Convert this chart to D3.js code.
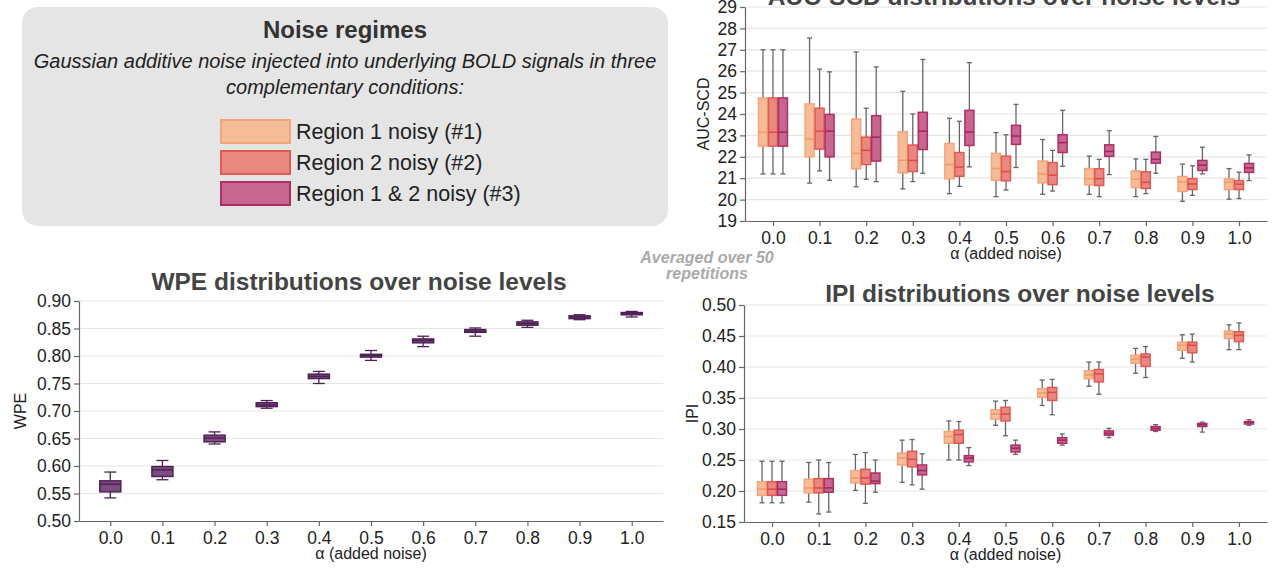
<!DOCTYPE html>
<html>
<head>
<meta charset="utf-8">
<script src="https://d3js.org/d3.v7.min.js"></script>
<style>
  body { margin: 0; background: #fff; }
  svg { font-family: "Liberation Sans", Arial, sans-serif; display: block; }
  .tick text { fill: #222; }
  .panel-title { font-weight: bold; fill: #444; font-size: 24.5px; text-anchor: middle; }
  .axis-label { fill: #222; font-size: 16px; text-anchor: middle; }
</style>
</head>
<body>
<svg width="1272" height="569"></svg>
<script>
// noise levels
var alphas = [0.0, 0.1, 0.2, 0.3, 0.4, 0.5, 0.6, 0.7, 0.8, 0.9, 1.0];
var regimes = ["Region 1 noisy (#1)", "Region 2 noisy (#2)", "Region 1 & 2 noisy (#3)"];

// each entry: [whisker low, q1, median, q3, whisker high]
var aucR1 = [[21.2,22.5,23.15,24.75,27.0],[20.77,22.0,22.83,24.47,27.55],[20.6,21.44,22.16,23.77,26.9],[20.5,21.25,21.84,23.17,25.06],
  [20.28,20.97,21.64,22.62,23.8],[20.14,20.9,21.45,22.16,23.13],[20.25,20.78,21.2,21.8,22.81],[20.25,20.69,20.98,21.45,22.03],
  [20.14,20.56,20.95,21.34,21.9],[19.92,20.38,20.83,21.08,21.66],[20.02,20.47,20.81,20.97,21.45]];
var aucR2 = [[21.2,22.5,23.15,24.75,27.0],[21.34,22.36,23.2,24.27,26.1],[20.95,21.64,22.3,22.92,24.27],[20.84,21.31,21.83,22.55,24.0],
  [20.62,21.09,21.52,22.2,23.66],[20.45,20.88,21.31,22.03,23.03],[20.4,20.7,21.14,21.73,22.3],[20.14,20.66,20.98,21.44,21.88],
  [20.28,20.52,20.81,21.3,21.88],[20.2,20.47,20.73,20.98,21.58],[20.05,20.47,20.72,20.89,21.28]];
var aucR3 = [[21.2,22.5,23.15,24.75,27.0],[20.9,22.0,23.2,23.98,25.97],[20.84,21.8,22.92,23.92,26.2],[21.23,22.34,23.2,24.08,26.55],
  [21.53,22.53,23.16,24.17,26.4],[21.5,22.58,22.97,23.47,24.45],[21.56,22.2,22.66,23.03,24.17],[21.17,22.02,22.25,22.56,23.22],
  [21.23,21.7,21.88,22.22,22.95],[21.2,21.36,21.61,21.83,22.45],[20.89,21.27,21.48,21.69,22.09]];

var ipiR1 = [[0.181,0.193,0.203,0.215,0.248],[0.182,0.197,0.205,0.219,0.246],[0.201,0.213,0.221,0.233,0.259],[0.214,0.242,0.253,0.261,0.282],
  [0.250,0.277,0.288,0.296,0.313],[0.306,0.316,0.324,0.331,0.345],[0.338,0.351,0.358,0.365,0.379],[0.369,0.381,0.387,0.394,0.408],
  [0.390,0.406,0.413,0.419,0.430],[0.414,0.427,0.435,0.440,0.452],[0.428,0.446,0.453,0.458,0.468]];
var ipiR2 = [[0.181,0.193,0.203,0.215,0.248],[0.163,0.197,0.205,0.220,0.250],[0.180,0.211,0.221,0.235,0.262],[0.210,0.239,0.251,0.264,0.283],
  [0.250,0.277,0.291,0.298,0.312],[0.289,0.313,0.324,0.335,0.346],[0.323,0.346,0.359,0.367,0.380],[0.356,0.376,0.389,0.396,0.408],
  [0.383,0.401,0.416,0.421,0.433],[0.408,0.423,0.435,0.440,0.453],[0.428,0.441,0.451,0.457,0.471]];
var ipiR3 = [[0.181,0.193,0.203,0.215,0.248],[0.166,0.198,0.205,0.220,0.246],[0.198,0.212,0.216,0.229,0.250],[0.203,0.226,0.233,0.242,0.260],
  [0.241,0.247,0.253,0.257,0.270],[0.259,0.263,0.269,0.274,0.282],[0.274,0.277,0.282,0.286,0.292],[0.286,0.290,0.293,0.297,0.301],
  [0.296,0.298,0.301,0.304,0.307],[0.295,0.304,0.307,0.309,0.311],[0.306,0.308,0.311,0.312,0.315]];

var wpe = [[0.542,0.553,0.567,0.573,0.589],[0.575,0.581,0.593,0.599,0.610],[0.640,0.644,0.651,0.656,0.662],[0.705,0.708,0.711,0.715,0.719],
  [0.750,0.759,0.763,0.767,0.772],[0.792,0.798,0.801,0.803,0.810],[0.817,0.824,0.828,0.831,0.836],[0.836,0.843,0.845,0.848,0.851],
  [0.852,0.856,0.859,0.862,0.865],[0.866,0.868,0.871,0.873,0.875],[0.871,0.875,0.878,0.879,0.881]];

var aucTicks = d3.range(19, 30, 1);
var ipiTicks = [0.15, 0.20, 0.25, 0.30, 0.35, 0.40, 0.45, 0.50];
var wpeTicks = [0.50, 0.55, 0.60, 0.65, 0.70, 0.75, 0.80, 0.85, 0.90];

var regimeFill = ["#f5bc98", "#e88880", "#c7668e"];
var regimeStroke = ["#f4a47a", "#e05a52", "#ad2f66"];
var regimeMedian = ["#ef9a68", "#d94a48", "#9e2760"];

var svg = d3.select("svg");

// ---- legend box ----
var leg = svg.append("g");
leg.append("rect").attr("x", 22).attr("y", 7).attr("width", 646).attr("height", 219)
  .attr("rx", 16).attr("fill", "#e5e5e5");
leg.append("text").attr("x", 345).attr("y", 38).attr("text-anchor", "middle")
  .attr("font-size", 24).attr("font-weight", "bold").attr("fill", "#333").text("Noise regimes");
leg.append("text").attr("x", 345).attr("y", 68).attr("text-anchor", "middle")
  .attr("font-size", 20).attr("font-style", "italic").attr("fill", "#222")
  .text("Gaussian additive noise injected into underlying BOLD signals in three");
leg.append("text").attr("x", 345).attr("y", 94).attr("text-anchor", "middle")
  .attr("font-size", 20).attr("font-style", "italic").attr("fill", "#222")
  .text("complementary conditions:");
regimes.forEach(function(r, i) {
  var yy = 120 + i * 31;
  leg.append("rect").attr("x", 221).attr("y", yy).attr("width", 69).attr("height", 23)
    .attr("fill", regimeFill[i]).attr("stroke", regimeStroke[i]).attr("stroke-width", 2);
  leg.append("text").attr("x", 296).attr("y", yy + 19).attr("font-size", 21.5).attr("fill", "#222").text(r);
});

svg.append("text").attr("x", 707).attr("y", 263).attr("text-anchor", "middle")
  .attr("font-size", 16).attr("font-weight", "bold").attr("font-style", "italic").attr("fill", "#aaa")
  .text("Averaged over 50");
svg.append("text").attr("x", 707).attr("y", 279).attr("text-anchor", "middle")
  .attr("font-size", 16).attr("font-weight", "bold").attr("font-style", "italic").attr("fill", "#aaa")
  .text("repetitions");

// ---- generic boxplot panel ----
function panel(opt) {
  var x = d3.scaleLinear().domain([-0.06, 1.06]).range([opt.left, opt.right]);
  var y = d3.scaleLinear().domain(opt.ydom).range([opt.bottom, opt.top]);
  var g = svg.append("g");

  // grid
  g.selectAll(".grid").data(opt.yticks.slice(1)).enter().append("line")
    .attr("x1", opt.left).attr("x2", opt.right)
    .attr("y1", function(d) { return y(d); }).attr("y2", function(d) { return y(d); })
    .attr("stroke", "#e6e6e6").attr("stroke-width", 1.2);

  var xa = g.append("g").attr("transform", "translate(0," + opt.bottom + ")")
    .call(d3.axisBottom(x).tickValues(alphas).tickFormat(d3.format(".1f")).tickSize(5).tickSizeOuter(0).tickPadding(6));
  var ya = g.append("g").attr("transform", "translate(" + opt.left + ",0)")
    .call(d3.axisLeft(y).tickValues(opt.yticks).tickFormat(opt.yfmt).tickSize(5).tickSizeOuter(0).tickPadding(3));
  [xa, ya].forEach(function(a) {
    a.selectAll("path, line").attr("stroke", "#666").attr("stroke-width", 1.2);
    a.selectAll("text").attr("font-size", 17.5).attr("font-family", "Liberation Sans, Arial, sans-serif");
  });

  opt.series.forEach(function(s, si) {
    var off = opt.offsets[si], w = opt.boxW, cap = opt.capW;
    var bg = g.append("g");
    var bx = bg.selectAll("g").data(s).enter().append("g")
      .attr("transform", function(d, i) { return "translate(" + (x(alphas[i]) + off) + ",0)"; });
    bx.append("line").attr("x1", 0).attr("x2", 0)
      .attr("y1", function(d) { return y(d[0]); }).attr("y2", function(d) { return y(d[4]); })
      .attr("stroke", opt.whisker).attr("stroke-width", 1.3);
    bx.append("line").attr("x1", -cap / 2).attr("x2", cap / 2)
      .attr("y1", function(d) { return y(d[0]); }).attr("y2", function(d) { return y(d[0]); })
      .attr("stroke", opt.whisker).attr("stroke-width", 1.3);
    bx.append("line").attr("x1", -cap / 2).attr("x2", cap / 2)
      .attr("y1", function(d) { return y(d[4]); }).attr("y2", function(d) { return y(d[4]); })
      .attr("stroke", opt.whisker).attr("stroke-width", 1.3);
    bx.append("rect").attr("x", -w / 2).attr("width", w)
      .attr("y", function(d) { return y(d[3]); })
      .attr("height", function(d) { return Math.max(1, y(d[1]) - y(d[3])); })
      .attr("fill", opt.fills[si]).attr("stroke", opt.strokes[si]).attr("stroke-width", 1.5);
    bx.append("line").attr("x1", -w / 2).attr("x2", w / 2)
      .attr("y1", function(d) { return y(d[2]); }).attr("y2", function(d) { return y(d[2]); })
      .attr("stroke", opt.medians[si]).attr("stroke-width", 1.5);
  });

  svg.append("text").attr("class", "panel-title").attr("x", opt.titleX).attr("y", opt.titleY).text(opt.title);
  svg.append("text").attr("class", "axis-label").attr("x", (x(0) + x(1)) / 2).attr("y", opt.bottom + 38)
    .text("\u03b1 (added noise)");
  svg.append("text").attr("class", "axis-label")
    .attr("transform", "translate(" + opt.ylabX + "," + ((opt.top + opt.bottom) / 2) + ") rotate(-90)")
    .text(opt.ylab);
}

panel({
  left: 745, right: 1267, top: 7, bottom: 221, ydom: [19, 29], yticks: aucTicks, yfmt: d3.format("d"),
  series: [aucR1, aucR2, aucR3], offsets: [-10, 0, 10], boxW: 9, capW: 5,
  fills: regimeFill, strokes: regimeStroke, medians: regimeMedian, whisker: "#666",
  title: "AUC-SCD distributions over noise levels", titleX: 1004, titleY: 5,
  ylab: "AUC-SCD", ylabX: 709
});

panel({
  left: 79, right: 663, top: 301, bottom: 521, ydom: [0.5, 0.9], yticks: wpeTicks, yfmt: d3.format(".2f"),
  series: [wpe], offsets: [0], boxW: 21, capW: 12,
  fills: ["#7c4d80"], strokes: ["#4f2156"], medians: ["#4f2156"], whisker: "#4f2156",
  title: "WPE distributions over noise levels", titleX: 359, titleY: 290,
  ylab: "WPE", ylabX: 26
});

panel({
  left: 744, right: 1267, top: 305, bottom: 522, ydom: [0.15, 0.5], yticks: ipiTicks, yfmt: d3.format(".2f"),
  series: [ipiR1, ipiR2, ipiR3], offsets: [-10, 0, 10], boxW: 9, capW: 5,
  fills: regimeFill, strokes: regimeStroke, medians: regimeMedian, whisker: "#666",
  title: "IPI distributions over noise levels", titleX: 1020, titleY: 302,
  ylab: "IPI", ylabX: 698
});
</script>
</body>
</html>
